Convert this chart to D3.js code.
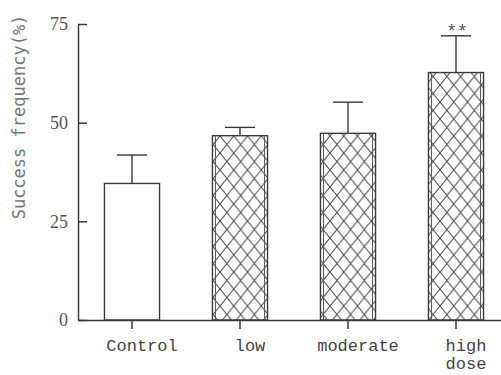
<!DOCTYPE html>
<html>
<head>
<meta charset="utf-8">
<script src="https://cdn.jsdelivr.net/npm/d3@7"></script>
<style>
  body { margin: 0; background: #fff; }
  svg { display: block; }
</style>
</head>
<body>
<div id="chart"></div>
<script>
// values (mean and upper error, %)
const CATEGORIES = ["Control", "low", "moderate", "high dose"];
const X_LABEL_LINES = [["Control"], ["low"], ["moderate"], ["high", "dose"]];
const MEANS = [34.6, 46.7, 47.3, 62.7];
const ERRORS = [7.2, 2.1, 7.9, 9.3];
const HATCHED = [false, true, true, true];
const MARKS = ["", "", "", "**"];
const Y_TICKS = [0, 25, 50, 75];

var width = 501, height = 375;
var ink = "#3a3a3a";

var svg = d3.select("#chart")
  .append("svg")
  .attr("width", width)
  .attr("height", height);

// cross hatch for the treated groups
var pattern = svg.append("defs")
  .append("pattern")
  .attr("id", "cross")
  .attr("patternUnits", "userSpaceOnUse")
  .attr("width", 13.75)
  .attr("height", 17)
  .attr("x", 0)
  .attr("y", 0);

pattern.append("path")
  .attr("d", "M0,0L13.75,17M13.75,0L0,17")
  .attr("stroke", "#4a4a4a")
  .attr("stroke-width", 1.1)
  .attr("fill", "none");

var x = d3.scaleBand()
  .domain(CATEGORIES)
  .range([78, 510])
  .paddingInner(0.49)
  .paddingOuter(0.245);

var y = d3.scaleLinear()
  .domain([0, 75])
  .range([320, 24]);

var data = CATEGORIES.map(function(d, i) {
  return {name: d, mean: MEANS[i], err: ERRORS[i], hatched: HATCHED[i], mark: MARKS[i], lines: X_LABEL_LINES[i]};
});

// error bars first so the bar outline sits on top
var errGroup = svg.append("g")
  .attr("stroke", ink)
  .attr("stroke-width", 1.4);

errGroup.selectAll("line.stem")
  .data(data)
  .enter()
  .append("line")
  .attr("class", "stem")
  .attr("x1", function(d) { return x(d.name) + x.bandwidth() / 2; })
  .attr("x2", function(d) { return x(d.name) + x.bandwidth() / 2; })
  .attr("y1", function(d) { return y(d.mean); })
  .attr("y2", function(d) { return y(d.mean + d.err); });

errGroup.selectAll("line.cap")
  .data(data)
  .enter()
  .append("line")
  .attr("class", "cap")
  .attr("x1", function(d) { return x(d.name) + x.bandwidth() / 2 - 15; })
  .attr("x2", function(d) { return x(d.name) + x.bandwidth() / 2 + 15; })
  .attr("y1", function(d) { return y(d.mean + d.err); })
  .attr("y2", function(d) { return y(d.mean + d.err); });

var bars = svg.append("g");

bars.selectAll("rect")
  .data(data)
  .enter()
  .append("rect")
  .attr("x", function(d) { return x(d.name); })
  .attr("y", function(d) { return y(d.mean); })
  .attr("width", x.bandwidth())
  .attr("height", function(d) { return y(0) - y(d.mean); })
  .attr("fill", function(d) { return d.hatched ? "url(#cross)" : "#fff"; })
  .attr("stroke", ink)
  .attr("stroke-width", 1.4);

// the hatched bars have a second inner line on each side
var inner = data.filter(function(d) { return d.hatched; });
bars.selectAll("line.inner")
  .data(inner.concat(inner))
  .enter()
  .append("line")
  .attr("class", "inner")
  .attr("x1", function(d, i) { return i < inner.length ? x(d.name) + 3 : x(d.name) + x.bandwidth() - 3; })
  .attr("x2", function(d, i) { return i < inner.length ? x(d.name) + 3 : x(d.name) + x.bandwidth() - 3; })
  .attr("y1", function(d) { return y(d.mean); })
  .attr("y2", y(0))
  .attr("stroke", "#555")
  .attr("stroke-width", 1);

svg.append("g")
  .selectAll("text")
  .data(data.filter(function(d) { return d.mark; }))
  .enter()
  .append("text")
  .attr("x", function(d) { return x(d.name) + x.bandwidth() / 2 + 1; })
  .attr("y", function(d) { return y(d.mean + d.err) + 1; })
  .attr("text-anchor", "middle")
  .style("font-family", "Liberation Mono")
  .style("font-size", "18px")
  .style("fill", "#555")
  .text(function(d) { return d.mark; });

// axes
var yAxis = svg.append("g")
  .attr("transform", "translate(78,0)")
  .call(d3.axisLeft(y).tickValues(Y_TICKS).tickSize(-9).tickSizeOuter(0).tickPadding(10));

var xAxis = svg.append("g")
  .attr("transform", "translate(0,320)")
  .call(d3.axisBottom(x).tickSize(9).tickSizeOuter(0).tickFormat(""));

svg.selectAll(".domain, .tick line")
  .attr("stroke", ink)
  .attr("stroke-width", 1.5);

yAxis.selectAll("text")
  .style("font-family", "Liberation Serif")
  .style("font-size", "18px")
  .style("fill", "#555");

// x labels, one text per line
var labels = svg.append("g");
data.forEach(function(d) {
  d.lines.forEach(function(line, j) {
    labels.append("text")
      .attr("x", x(d.name) + x.bandwidth() / 2 + 10)
      .attr("y", 351 + j * 18)
      .attr("text-anchor", "middle")
      .attr("textLength", line.length * 10.2)
      .attr("lengthAdjust", "spacingAndGlyphs")
      .style("font-family", "Liberation Mono")
      .style("font-size", "16px")
      .style("fill", "#444")
      .text(line);
  });
});

svg.append("text")
  .attr("transform", "translate(25,117) rotate(-90)")
  .attr("text-anchor", "middle")
  .style("font-family", "DejaVu Sans Mono")
  .style("font-size", "17px")
  .style("fill", "#777")
  .text("Success frequency(%)");
</script>
</body>
</html>
